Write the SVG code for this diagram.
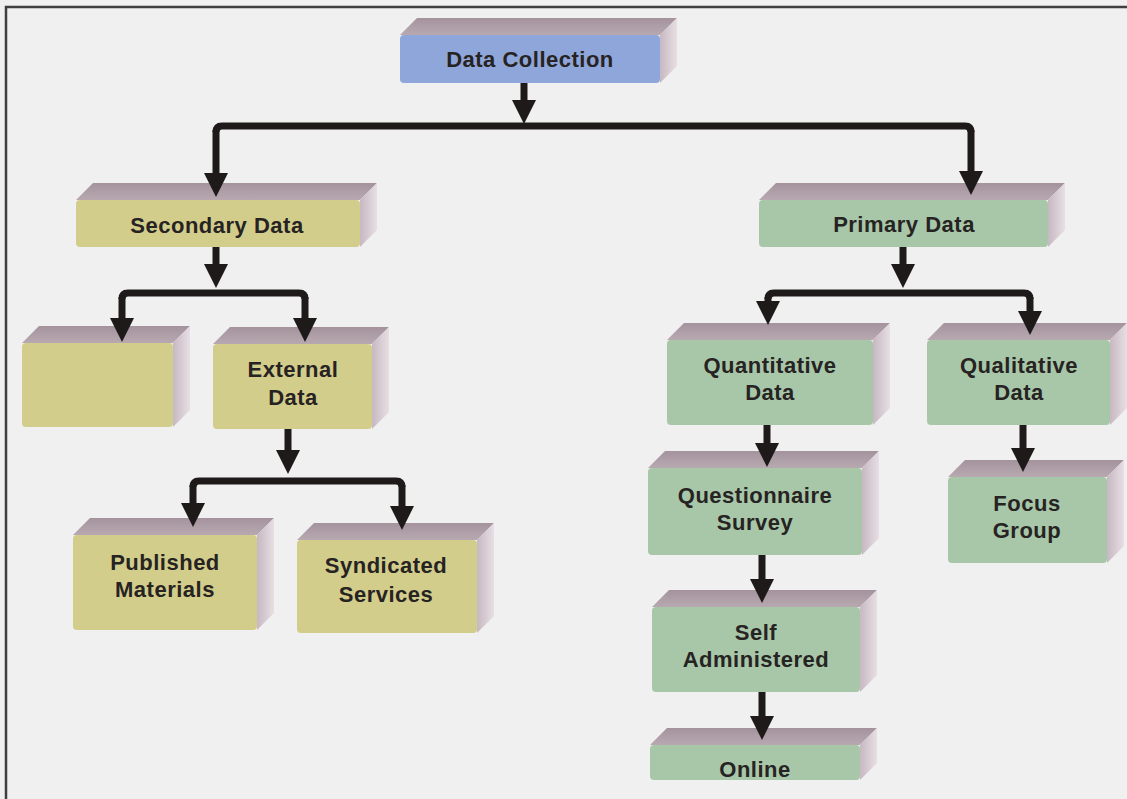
<svg xmlns="http://www.w3.org/2000/svg" width="1127" height="799" viewBox="0 0 1127 799">
  <defs>
    <style>
      .lbl { font-family: "Liberation Sans", Arial, sans-serif; font-weight: bold; font-size: 22px; letter-spacing: 0.5px; fill: #262322; text-anchor: middle; }
      .top { fill: url(#gTop); }
      .side { fill: url(#gSide); }
      .blue { fill: #8fa6da; }
      .olive { fill: #d3cd8c; }
      .green { fill: #a8c7a9; }
      .wire { fill: none; stroke: #1f1a1a; stroke-width: 7; stroke-linejoin: round; }
      .arrow { fill: none; stroke: #1f1a1a; stroke-width: 7; marker-end: url(#head); }
    </style>
    <linearGradient id="gTop" x1="0" y1="0" x2="0" y2="1">
      <stop offset="0" stop-color="#a4939c"/>
      <stop offset="1" stop-color="#b8a9b1"/>
    </linearGradient>
    <linearGradient id="gSide" x1="0" y1="0" x2="1" y2="0">
      <stop offset="0" stop-color="#c7b8c1"/>
      <stop offset="1" stop-color="#e7dfe4"/>
    </linearGradient>
    <marker id="head" markerUnits="userSpaceOnUse" viewBox="0 0 24 24" markerWidth="24" markerHeight="24" refX="12" refY="12" orient="auto">
      <path d="M0,0 L24,12 L0,24 Z" fill="#1f1a1a"/>
    </marker>
  </defs>

  <!-- page background and frame -->
  <rect x="0" y="0" width="1127" height="799" fill="#f0f0f0"/>
  <path d="M6,799 V7 H1127" fill="none" stroke="#3f3f3f" stroke-width="2.5"/>

  <!-- nodes: top face, side face, front face, label -->
  <g id="data-collection">
    <path class="top" d="M400,35 L417,18 L677,18 L660,35 Z"/>
    <path class="side" d="M660,35 L677,18 L677,66 L660,83 Z"/>
    <rect class="blue" x="400" y="35" width="260" height="48" rx="4"/>
    <text class="lbl" x="530" y="67">Data Collection</text>
  </g>

  <g id="secondary-data">
    <path class="top" d="M76,200 L93,183 L377,183 L360,200 Z"/>
    <path class="side" d="M360,200 L377,183 L377,230 L360,247 Z"/>
    <rect class="olive" x="76" y="200" width="284" height="47" rx="4"/>
    <text class="lbl" x="217" y="233">Secondary Data</text>
  </g>

  <g id="internal-data">
    <path class="top" d="M22,343 L39,326 L190,326 L173,343 Z"/>
    <path class="side" d="M173,343 L190,326 L190,410 L173,427 Z"/>
    <rect class="olive" x="22" y="343" width="151" height="84" rx="4"/>
  </g>

  <g id="external-data">
    <path class="top" d="M213,344 L230,327 L389,327 L372,344 Z"/>
    <path class="side" d="M372,344 L389,327 L389,412 L372,429 Z"/>
    <rect class="olive" x="213" y="344" width="159" height="85" rx="4"/>
    <text class="lbl" x="293" y="377">External</text>
    <text class="lbl" x="293" y="405">Data</text>
  </g>

  <g id="published-materials">
    <path class="top" d="M73,535 L90,518 L274,518 L257,535 Z"/>
    <path class="side" d="M257,535 L274,518 L274,613 L257,630 Z"/>
    <rect class="olive" x="73" y="535" width="184" height="95" rx="4"/>
    <text class="lbl" x="165" y="570">Published</text>
    <text class="lbl" x="165" y="597">Materials</text>
  </g>

  <g id="syndicated-services">
    <path class="top" d="M297,540 L314,523 L494,523 L477,540 Z"/>
    <path class="side" d="M477,540 L494,523 L494,616 L477,633 Z"/>
    <rect class="olive" x="297" y="540" width="180" height="93" rx="4"/>
    <text class="lbl" x="386" y="573">Syndicated</text>
    <text class="lbl" x="386" y="602">Services</text>
  </g>

  <g id="primary-data">
    <path class="top" d="M759,200 L776,183 L1065,183 L1048,200 Z"/>
    <path class="side" d="M1048,200 L1065,183 L1065,230 L1048,247 Z"/>
    <rect class="green" x="759" y="200" width="289" height="47" rx="4"/>
    <text class="lbl" x="904" y="232">Primary Data</text>
  </g>

  <g id="quantitative-data">
    <path class="top" d="M667,340 L684,323 L890,323 L873,340 Z"/>
    <path class="side" d="M873,340 L890,323 L890,408 L873,425 Z"/>
    <rect class="green" x="667" y="340" width="206" height="85" rx="4"/>
    <text class="lbl" x="770" y="373">Quantitative</text>
    <text class="lbl" x="770" y="400">Data</text>
  </g>

  <g id="qualitative-data">
    <path class="top" d="M927,340 L944,323 L1127,323 L1110,340 Z"/>
    <path class="side" d="M1110,340 L1127,323 L1127,408 L1110,425 Z"/>
    <rect class="green" x="927" y="340" width="183" height="85" rx="4"/>
    <text class="lbl" x="1019" y="373">Qualitative</text>
    <text class="lbl" x="1019" y="400">Data</text>
  </g>

  <g id="questionnaire-survey">
    <path class="top" d="M648,468 L665,451 L879,451 L862,468 Z"/>
    <path class="side" d="M862,468 L879,451 L879,538 L862,555 Z"/>
    <rect class="green" x="648" y="468" width="214" height="87" rx="4"/>
    <text class="lbl" x="755" y="503">Questionnaire</text>
    <text class="lbl" x="755" y="530">Survey</text>
  </g>

  <g id="focus-group">
    <path class="top" d="M948,477 L965,460 L1124,460 L1107,477 Z"/>
    <path class="side" d="M1107,477 L1124,460 L1124,546 L1107,563 Z"/>
    <rect class="green" x="948" y="477" width="159" height="86" rx="4"/>
    <text class="lbl" x="1027" y="511">Focus</text>
    <text class="lbl" x="1027" y="538">Group</text>
  </g>

  <g id="self-administered">
    <path class="top" d="M652,607 L669,590 L877,590 L860,607 Z"/>
    <path class="side" d="M860,607 L877,590 L877,675 L860,692 Z"/>
    <rect class="green" x="652" y="607" width="208" height="85" rx="4"/>
    <text class="lbl" x="756" y="640">Self</text>
    <text class="lbl" x="756" y="667">Administered</text>
  </g>

  <g id="online">
    <path class="top" d="M650,745 L667,728 L877,728 L860,745 Z"/>
    <path class="side" d="M860,745 L877,728 L877,763 L860,780 Z"/>
    <rect class="green" x="650" y="745" width="210" height="35" rx="4"/>
    <text class="lbl" x="755" y="777">Online</text>
  </g>

  <!-- connectors, drawn over the box tops so the arrowheads stay visible -->
  <g id="connectors">
    <path class="arrow" d="M524,83 V112"/>
    <path class="wire" d="M524,126 H222 Q216,126 216,132"/>
    <path class="arrow" d="M216,130 V185"/>
    <path class="wire" d="M524,126 H965 Q971,126 971,132"/>
    <path class="arrow" d="M971,130 V183"/>

    <path class="arrow" d="M216,247 V276"/>
    <path class="wire" d="M216,293 H128 Q122,293 122,299"/>
    <path class="arrow" d="M122,297 V330"/>
    <path class="wire" d="M216,293 H299 Q305,293 305,299"/>
    <path class="arrow" d="M305,297 V330"/>

    <path class="arrow" d="M288,429 V462"/>
    <path class="wire" d="M288,481 H199 Q193,481 193,487"/>
    <path class="arrow" d="M193,485 V515"/>
    <path class="wire" d="M288,481 H396 Q402,481 402,487"/>
    <path class="arrow" d="M402,485 V518"/>

    <path class="arrow" d="M903,247 V276"/>
    <path class="wire" d="M903,293 H774 Q768,293 768,299"/>
    <path class="arrow" d="M768,297 V313"/>
    <path class="wire" d="M903,293 H1024 Q1030,293 1030,299"/>
    <path class="arrow" d="M1030,297 V323"/>

    <path class="arrow" d="M767,425 V455"/>
    <path class="arrow" d="M1023,425 V460"/>
    <path class="arrow" d="M762,555 V591"/>
    <path class="arrow" d="M762,692 V728"/>
  </g>
</svg>
